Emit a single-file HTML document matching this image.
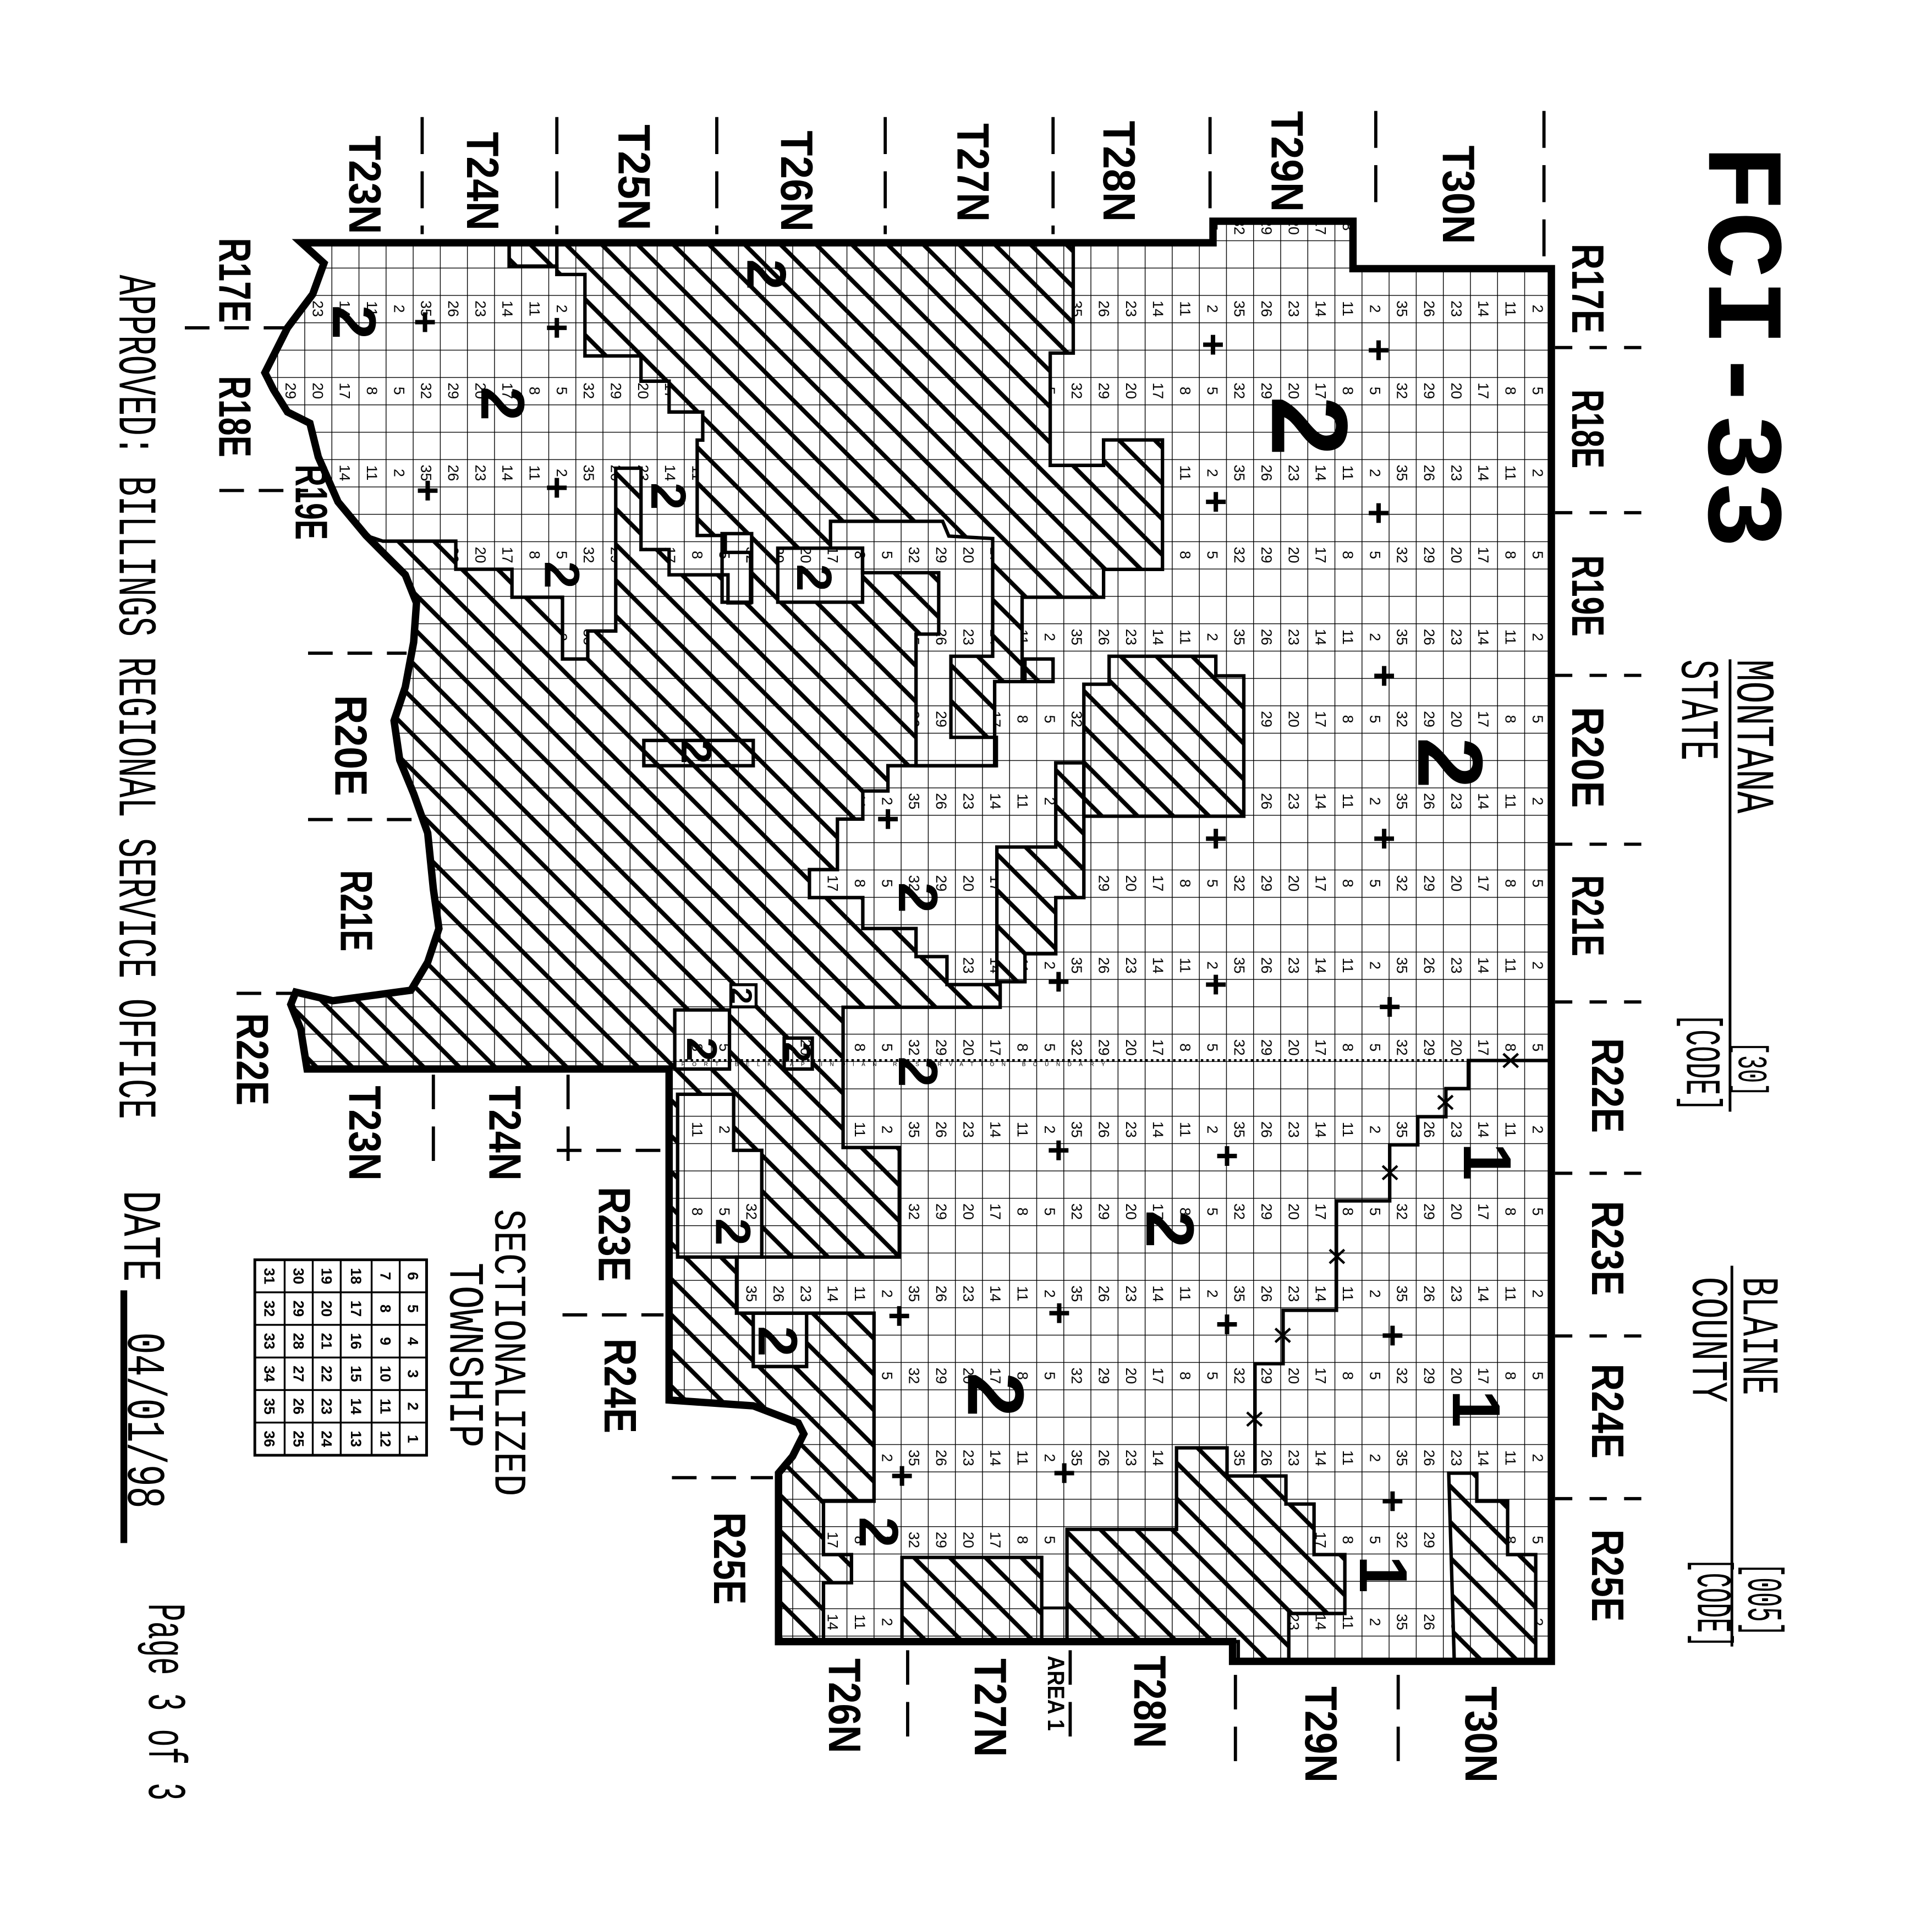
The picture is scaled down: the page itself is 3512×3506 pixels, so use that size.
<!DOCTYPE html>
<html><head><meta charset="utf-8"><style>
html,body{margin:0;padding:0;background:#fff;}
svg{display:block;}
.b{font-family:"Liberation Sans",sans-serif;font-weight:bold;}
.m{font-family:"Liberation Mono",monospace;}
</style></head><body>
<svg xmlns="http://www.w3.org/2000/svg" width="3512" height="3506" viewBox="0 0 1567.9 1565.2" preserveAspectRatio="none">
<defs>
<pattern id="hatch" patternUnits="userSpaceOnUse" width="29" height="29">
<path d="M-2,-2L31,31M27,-2L31,2M-2,27L2,31" stroke="#000" stroke-width="3.5" fill="none"/>
</pattern>
<pattern id="grid" patternUnits="userSpaceOnUse" x="5" y="17.4" width="22" height="22.2">
<path d="M0,0H22M0,0V22.2" stroke="#000" stroke-width="1.25" fill="none"/>
</pattern>
<pattern id="nums" patternUnits="userSpaceOnUse" x="71" y="106.2" width="132" height="133.2">
<g font-family="Liberation Sans, sans-serif" font-size="12" text-anchor="middle" fill="#000">
<text transform="translate(6.8,11.1) rotate(90)">35</text>
<text transform="translate(28.8,11.1) rotate(90)">26</text>
<text transform="translate(50.8,11.1) rotate(90)">23</text>
<text transform="translate(72.8,11.1) rotate(90)">14</text>
<text transform="translate(94.8,11.1) rotate(90)">11</text>
<text transform="translate(116.8,11.1) rotate(90)">2</text>
<text transform="translate(6.8,77.7) rotate(90)">32</text>
<text transform="translate(28.8,77.7) rotate(90)">29</text>
<text transform="translate(50.8,77.7) rotate(90)">20</text>
<text transform="translate(72.8,77.7) rotate(90)">17</text>
<text transform="translate(94.8,77.7) rotate(90)">8</text>
<text transform="translate(116.8,77.7) rotate(90)">5</text>
</g>
</pattern>
<clipPath id="out"><path id="outline" d="M244.6,197L984.4,197L984.4,179.5L1098,179.5L1098,218L1259,218L1259,1348L1000.3,1348L1000.3,1332L631.8,1332L631.8,1195.3L643.2,1181.7L652.3,1163.5L647.8,1154.6L611.3,1140.7L543,1136L543,867.4L249.2,867.4L244,835L236,815L240,805L270,812L300,808L333.5,803.5L347.1,780.7L356.2,753.4L351.7,721.5L347.1,675.9L335.7,644L324.4,616.7L319.8,584.8L328.9,557.5L335.7,521.1L338,489.2L328.9,466.4L315.2,452.8L297,434.5L274.3,407.2L258.3,370.8L251.5,343.4L233.3,334.3L221.9,316.1L215,302.4L233.3,266L253.8,238.7L262.9,213.6Z"/></clipPath>
</defs>
<rect width="1567.9" height="1565.2" fill="#fff"/>
<g clip-path="url(#out)">
<rect x="150" y="150" width="1150" height="1250" fill="url(#hatch)"/>
<g id="whites">
<path id="W1" d="M244.6,195.4L413.2,195.4L413.2,215.9L451.9,215.9L451.9,222.7L474.7,222.7L474.7,288.8L520.2,288.8L520.2,309.3L543,309.3L543,334.3L570.3,334.3L570.3,357.1L565.8,357.1L565.8,434.5L588.6,434.5L588.6,448.2L609.1,448.2L609.1,489.2L590.8,489.2L590.8,466.4L543,466.4L543,445.9L520.2,445.9L520.2,379.9L499.7,379.9L499.7,512L477,512L477,534.7L456.5,534.7L456.5,484.6L415.5,484.6L415.5,461.9L369.9,461.9L369.9,439.1L310.7,439.1L297,434.5L274.3,407.2L258.3,370.8L251.5,343.4L233.3,334.3L221.9,316.1L215,302.4L233.3,266L253.8,238.7L262.9,213.6Z"/>
<path id="W2" d="M871,197.7L984.4,197.7L984.4,179.5L1098,179.5L1098,218L1259,218L1259,1348L1000.3,1348L1000.3,1332L668.3,1332L668.3,1284.2L691,1284.2L691,1261.4L668.3,1261.4L668.3,1218.1L709.3,1218.1L709.3,1065.5L597.7,1065.5L597.7,1020L729.8,1020L729.8,931.1L684.2,931.1L684.2,817.3L811.7,817.3L811.7,798.9L768.5,798.9L768.5,776.2L743.4,776.2L743.4,753.4L700.2,753.4L700.2,728.3L656.9,728.3L656.9,705.6L679.6,705.6L679.6,664.6L700.2,664.6L700.2,641.8L720.6,641.8L720.6,621.3L807.2,621.3L807.2,553L829.5,553L829.5,484.6L895.6,484.6L895.6,462L943.4,462L943.4,357L895.6,357L895.6,377.6L852.3,377.6L852.3,286.5L871,286.5Z"/>
<path id="W3" d="M549.9,887.9L595.4,887.9L595.4,933.4L618.2,933.4L618.2,1020L549.9,1020Z"/>
<path d="M611.3,1065.5H654.6V1108.8H611.3Z"/>
<path d="M631.2,444.8H700V488.6H631.2Z"/>
<path d="M586,433H610V488.6H586Z"/>
<path d="M674,423L765,423L770,435L805.6,437L805.6,532.5L771.7,532.5L771.7,598.3L808.6,598.3L808.6,621.3L743.4,621.3L743.4,514.5L761.8,514.5L761.8,464.7L700,464.7L700,444.8L674,444.8Z"/>
<path d="M547.6,819.5H592V867.4H547.6Z"/>
<path d="M636.4,842.3H659.2V867.4H636.4Z"/>
</g>
<use href="#whites" fill="#fff"/>
<use href="#whites" fill="url(#nums)"/>
<g id="patches">
<path d="M900.1,532.5L986.7,532.5L986.7,548.4L1009.4,548.4L1009.4,662.3L879.6,662.3L879.6,555.2L900.1,555.2Z"/>
<path d="M856.8,619L879.6,619L879.6,728.3L856.8,728.3L856.8,773.9L831.8,773.9L831.8,796.6L809,796.6L809,687.3L856.8,687.3Z"/>
<path d="M831.8,534.7H854.6V553H831.8Z"/>
<path d="M954.8,1174.8L995.8,1174.8L995.8,1197.6L1043.6,1197.6L1043.6,1220.4L1066.4,1220.4L1066.4,1261.4L1091.4,1261.4L1091.4,1309.2L1045.9,1309.2L1045.9,1348L1004.9,1348L1004.9,1332L865.9,1332L865.9,1240.9L954.8,1240.9Z"/>
<path d="M732,1263.7H845.4V1332H732Z"/>
<path d="M1175.7,1195.3L1198.5,1195.3L1198.5,1218.1L1223.5,1218.1L1223.5,1261.4L1246.3,1261.4L1246.3,1348L1180.2,1348Z"/>
</g>
<use href="#patches" fill="#fff"/>
<use href="#patches" fill="url(#hatch)"/>
<rect x="845.4" y="1304.7" width="20.5" height="27.3" fill="#fff"/>
<rect x="150" y="150" width="1150" height="1250" fill="url(#grid)"/>
<use href="#whites" fill="none" stroke="#000" stroke-width="2.8"/>
<use href="#patches" fill="none" stroke="#000" stroke-width="2.8"/>
<rect x="845.4" y="1304.7" width="20.5" height="27.3" fill="none" stroke="#000" stroke-width="2.4"/>
<rect x="522.5" y="600.8" width="88.8" height="20.5" fill="none" stroke="#000" stroke-width="2.8"/>
<rect x="413.2" y="195.4" width="38.7" height="20.5" fill="none" stroke="#000" stroke-width="2.8"/>
<rect x="593.1" y="799" width="20.5" height="18" fill="#fff" stroke="#000" stroke-width="2.4"/>
<line x1="547" y1="860.5" x2="1191.6" y2="860.5" stroke="#000" stroke-width="2.2" stroke-dasharray="2 2.5"/>
<path d="M1259,860.5L1191.6,860.5L1191.6,883.3L1173.4,883.3L1173.4,906.1L1150.6,906.1L1150.6,928.9L1127.8,928.9L1127.8,974.4L1084.6,974.4L1084.6,1063.2L1041.3,1063.2L1041.3,1106.5L1018.5,1106.5L1018.5,1195.3" fill="none" stroke="#000" stroke-width="2.8"/>
</g>
<use href="#outline" fill="none" stroke="#000" stroke-width="6"/>
<text x="553" y="865" font-family="Liberation Sans, sans-serif" font-size="4.5" letter-spacing="6">FORT BELKNAP INDIAN RESERVATION BOUNDARY</text>
<g stroke="#000" stroke-width="2" fill="none">
<path d="M1220,855l12,11m0,-11l-12,11M1167,889l12,11m0,-11l-12,11M1122,946l12,11m0,-11l-12,11M1079,1014l12,11m0,-11l-12,11M1035,1078l12,11m0,-11l-12,11M1012,1146l12,11m0,-11l-12,11"/>
</g>
<g stroke="#000" stroke-width="3.6" fill="none">
<path d="M336.9,261.4h16m-8,-8v16M443.9,266h16m-8,-8v16M339.1,398.1h16m-8,-8v16M443.9,395.8h16m-8,-8v16M976.4,279.7h16m-8,-8v16M1110.8,284.2h16m-8,-8v16M978.7,407.2h16m-8,-8v16M1110.8,416.3h16m-8,-8v16M1115.3,548.4h16m-8,-8v16M1115.3,680.5h16m-8,-8v16M978.7,680.5h16m-8,-8v16M712.6,664.6h16m-8,-8v16M851.1,796.6h16m-8,-8v16M978.7,798.9h16m-8,-8v16M1119.8,817h16m-8,-8v16M851.1,933.4h16m-8,-8v16M987.8,938h16m-8,-8v16M721.8,1067.8h16m-8,-8v16M851.6,1065.5h16m-8,-8v16M987.8,1074.6h16m-8,-8v16M1122.1,1083.7h16m-8,-8v16M724,1197.6h16m-8,-8v16M855.7,1195.3h16m-8,-8v16M1122.1,1218.1h16m-8,-8v16"/>
</g>
<g class="b" text-anchor="middle" fill="#000">
<text font-size="50" transform="translate(270,261.4) rotate(90)">2</text>
<text font-size="50" transform="translate(390.6,327.5) rotate(90)">2</text>
<text font-size="88" transform="translate(1032.3,345.7) rotate(90)">2</text>
<text font-size="45" transform="translate(606.5,222.7) rotate(90)">2</text>
<text font-size="40" transform="translate(528.6,402.6) rotate(90)">2</text>
<text font-size="40" transform="translate(442.1,466.4) rotate(90)">2</text>
<text font-size="40" transform="translate(647,468.7) rotate(90)">2</text>
<text font-size="35" transform="translate(553.2,610) rotate(90)">2</text>
<text font-size="75" transform="translate(1151,619) rotate(90)">2</text>
<text font-size="45" transform="translate(729.5,728.3) rotate(90)">2</text>
<text font-size="35" transform="translate(557.7,851.4) rotate(90)">2</text>
<text font-size="30" transform="translate(637,853.7) rotate(90)">2</text>
<text font-size="24" transform="translate(593.6,808) rotate(90)">2</text>
<text font-size="45" transform="translate(729.5,869.6) rotate(90)">2</text>
<text font-size="40" transform="translate(581,999.5) rotate(90)">2</text>
<text font-size="45" transform="translate(615.6,1088.3) rotate(90)">2</text>
<text font-size="55" transform="translate(930.4,997.2) rotate(90)">2</text>
<text font-size="65" transform="translate(785.6,1131.6) rotate(90)">2</text>
<text font-size="45" transform="translate(697.6,1243.2) rotate(90)">2</text>
<text font-size="55" transform="translate(1188,942.5) rotate(90)">1</text>
<text font-size="55" transform="translate(1179,1143) rotate(90)">1</text>
<text font-size="55" transform="translate(1103.5,1277.3) rotate(90)">1</text>
</g>
<g class="b" fill="#000" font-size="37">
<text transform="translate(1276,197.7) rotate(90)" textLength="73" lengthAdjust="spacingAndGlyphs">R17E</text>
<text transform="translate(1276,316) rotate(90)" textLength="64" lengthAdjust="spacingAndGlyphs">R18E</text>
<text transform="translate(1276,450.5) rotate(90)" textLength="66" lengthAdjust="spacingAndGlyphs">R19E</text>
<text transform="translate(1276,573.5) rotate(90)" textLength="82" lengthAdjust="spacingAndGlyphs">R20E</text>
<text transform="translate(1276,710) rotate(90)" textLength="66" lengthAdjust="spacingAndGlyphs">R21E</text>
<text transform="translate(1292,842.3) rotate(90)" textLength="77" lengthAdjust="spacingAndGlyphs">R22E</text>
<text transform="translate(1292,974.4) rotate(90)" textLength="77" lengthAdjust="spacingAndGlyphs">R23E</text>
<text transform="translate(1292,1106.5) rotate(90)" textLength="77" lengthAdjust="spacingAndGlyphs">R24E</text>
<text transform="translate(1292,1240.9) rotate(90)" textLength="75" lengthAdjust="spacingAndGlyphs">R25E</text>
<text transform="translate(178,193) rotate(90)" textLength="69" lengthAdjust="spacingAndGlyphs">R17E</text>
<text transform="translate(178,305) rotate(90)" textLength="66" lengthAdjust="spacingAndGlyphs">R18E</text>
<text transform="translate(240,377) rotate(90)" textLength="61" lengthAdjust="spacingAndGlyphs">R19E</text>
<text transform="translate(272,564) rotate(90)" textLength="82" lengthAdjust="spacingAndGlyphs">R20E</text>
<text transform="translate(276.5,706) rotate(90)" textLength="66" lengthAdjust="spacingAndGlyphs">R21E</text>
<text transform="translate(192.3,822) rotate(90)" textLength="75" lengthAdjust="spacingAndGlyphs">R22E</text>
<text transform="translate(486,963) rotate(90)" textLength="77" lengthAdjust="spacingAndGlyphs">R23E</text>
<text transform="translate(490.6,1086) rotate(90)" textLength="77" lengthAdjust="spacingAndGlyphs">R24E</text>
<text transform="translate(579.4,1227) rotate(90)" textLength="75" lengthAdjust="spacingAndGlyphs">R25E</text>
<text transform="translate(283.4,110) rotate(90)" textLength="80" lengthAdjust="spacingAndGlyphs">T23N</text>
<text transform="translate(379,107) rotate(90)" textLength="80" lengthAdjust="spacingAndGlyphs">T24N</text>
<text transform="translate(502,101) rotate(90)" textLength="86" lengthAdjust="spacingAndGlyphs">T25N</text>
<text transform="translate(634,106) rotate(90)" textLength="82" lengthAdjust="spacingAndGlyphs">T26N</text>
<text transform="translate(777,100) rotate(90)" textLength="80" lengthAdjust="spacingAndGlyphs">T27N</text>
<text transform="translate(895.6,98) rotate(90)" textLength="82" lengthAdjust="spacingAndGlyphs">T28N</text>
<text transform="translate(1032,90) rotate(90)" textLength="82" lengthAdjust="spacingAndGlyphs">T29N</text>
<text transform="translate(1171,118) rotate(90)" textLength="80" lengthAdjust="spacingAndGlyphs">T30N</text>
<text transform="translate(283.4,881) rotate(90)" textLength="77" lengthAdjust="spacingAndGlyphs">T23N</text>
<text transform="translate(397.2,881) rotate(90)" textLength="77" lengthAdjust="spacingAndGlyphs">T24N</text>
<text transform="translate(672.8,1345.6) rotate(90)" textLength="77" lengthAdjust="spacingAndGlyphs">T26N</text>
<text transform="translate(791.2,1345.6) rotate(90)" textLength="80" lengthAdjust="spacingAndGlyphs">T27N</text>
<text transform="translate(920.6,1343.4) rotate(90)" textLength="75" lengthAdjust="spacingAndGlyphs">T28N</text>
<text transform="translate(1059.5,1368.4) rotate(90)" textLength="78" lengthAdjust="spacingAndGlyphs">T29N</text>
<text transform="translate(1189.4,1368.4) rotate(90)" textLength="78" lengthAdjust="spacingAndGlyphs">T30N</text>
<text font-size="19" transform="translate(850.5,1343.4) rotate(90)" textLength="61" lengthAdjust="spacingAndGlyphs">AREA 1</text>
</g>
<g class="m" fill="#000">
<text font-weight="bold" font-size="88" transform="translate(1387,117) rotate(90)" textLength="328" lengthAdjust="spacingAndGlyphs">FCI-33</text>
<text font-size="44" transform="translate(1410,535) rotate(90)" textLength="125" lengthAdjust="spacingAndGlyphs">MONTANA</text>
<text font-size="44" transform="translate(1365,535) rotate(90)" textLength="82" lengthAdjust="spacingAndGlyphs">STATE</text>
<text font-size="34" transform="translate(1411,845) rotate(90)" textLength="45" lengthAdjust="spacingAndGlyphs">[30]</text>
<text font-size="40" transform="translate(1369,822) rotate(90)" textLength="80" lengthAdjust="spacingAndGlyphs">[CODE]</text>
<text font-size="42" transform="translate(1415,1036) rotate(90)" textLength="96" lengthAdjust="spacingAndGlyphs">BLAINE</text>
<text font-size="42" transform="translate(1374,1036) rotate(90)" textLength="102" lengthAdjust="spacingAndGlyphs">COUNTY</text>
<text font-size="40" transform="translate(1419,1268) rotate(90)" textLength="60" lengthAdjust="spacingAndGlyphs">[005]</text>
<text font-size="40" transform="translate(1378,1264) rotate(90)" textLength="73" lengthAdjust="spacingAndGlyphs">[CODE]</text>
<text font-size="44" transform="translate(97,223) rotate(90)" textLength="685" lengthAdjust="spacingAndGlyphs">APPROVED: BILLINGS REGIONAL SERVICE OFFICE</text>
<text font-size="44" transform="translate(101,966) rotate(90)" textLength="74" lengthAdjust="spacingAndGlyphs">DATE</text>
<text font-size="44" transform="translate(104,1081) rotate(90)" textLength="143" lengthAdjust="spacingAndGlyphs">04/01/98</text>
<text font-size="44" transform="translate(121,1301) rotate(90)" textLength="160" lengthAdjust="spacingAndGlyphs">Page 3 of 3</text>
<text font-size="37" transform="translate(402,981) rotate(90)" textLength="233" lengthAdjust="spacingAndGlyphs">SECTIONALIZED</text>
<text font-size="40" transform="translate(365.4,1024.5) rotate(90)" textLength="150" lengthAdjust="spacingAndGlyphs">TOWNSHIP</text>
</g>
<g stroke="#000" fill="none">
<line x1="1404" y1="535" x2="1404" y2="902" stroke-width="2.2"/>
<line x1="1405.5" y1="1027" x2="1405.5" y2="1336" stroke-width="2.2"/>
<line x1="100.5" y1="1047" x2="100.5" y2="1252" stroke-width="5.5"/>
</g>
<g stroke="#000" stroke-width="2.6" fill="none">
<path d="M342.6,95V190M451.9,95V190M581.7,95V190M718.4,95V190M854.6,95V190M982,95V175M1116.5,90V175M1253,90V210" stroke-dasharray="30 14"/>
<path d="M351.7,872V950M461,872V950M736.6,1339V1421M868.5,1339V1421M1002.6,1359V1440M1134.7,1359V1440" stroke-dasharray="28 14"/>
<path d="M1262,282H1345M1262,416H1345M1262,548H1345M1262,685H1345M1262,813H1345M1262,952H1345M1262,1084H1345M1262,1216H1345" stroke-dasharray="14 14"/>
<path d="M150,266H245M178,398H250M250,530H330M250,665H335M192,806H240M451.9,933.4H538.5M456.5,1066.9H538.5M545.3,1199H627.3" stroke-dasharray="20 12"/>
</g>
<g fill="none" stroke="#000" stroke-width="2.2">
<rect x="206.8" y="1022.2" width="139.4" height="158.6"/>
<path d="M231,1022.2V1180.8M253.8,1022.2V1180.8M276.5,1022.2V1180.8M301.6,1022.2V1180.8M324.4,1022.2V1180.8M206.8,1048.6H346.2M206.8,1075H346.2M206.8,1101.5H346.2M206.8,1127.9H346.2M206.8,1154.3H346.2" stroke-width="1.5"/>
</g>
<g class="b" font-size="12" text-anchor="middle" fill="#000">
<text transform="translate(331,1035.4) rotate(90)">6</text><text transform="translate(331,1061.8) rotate(90)">5</text><text transform="translate(331,1088.2) rotate(90)">4</text><text transform="translate(331,1114.7) rotate(90)">3</text><text transform="translate(331,1141.1) rotate(90)">2</text><text transform="translate(331,1167.5) rotate(90)">1</text>
<text transform="translate(308.7,1035.4) rotate(90)">7</text><text transform="translate(308.7,1061.8) rotate(90)">8</text><text transform="translate(308.7,1088.2) rotate(90)">9</text><text transform="translate(308.7,1114.7) rotate(90)">10</text><text transform="translate(308.7,1141.1) rotate(90)">11</text><text transform="translate(308.7,1167.5) rotate(90)">12</text>
<text transform="translate(284.8,1035.4) rotate(90)">18</text><text transform="translate(284.8,1061.8) rotate(90)">17</text><text transform="translate(284.8,1088.2) rotate(90)">16</text><text transform="translate(284.8,1114.7) rotate(90)">15</text><text transform="translate(284.8,1141.1) rotate(90)">14</text><text transform="translate(284.8,1167.5) rotate(90)">13</text>
<text transform="translate(260.9,1035.4) rotate(90)">19</text><text transform="translate(260.9,1061.8) rotate(90)">20</text><text transform="translate(260.9,1088.2) rotate(90)">21</text><text transform="translate(260.9,1114.7) rotate(90)">22</text><text transform="translate(260.9,1141.1) rotate(90)">23</text><text transform="translate(260.9,1167.5) rotate(90)">24</text>
<text transform="translate(238.1,1035.4) rotate(90)">30</text><text transform="translate(238.1,1061.8) rotate(90)">29</text><text transform="translate(238.1,1088.2) rotate(90)">28</text><text transform="translate(238.1,1114.7) rotate(90)">27</text><text transform="translate(238.1,1141.1) rotate(90)">26</text><text transform="translate(238.1,1167.5) rotate(90)">25</text>
<text transform="translate(214.6,1035.4) rotate(90)">31</text><text transform="translate(214.6,1061.8) rotate(90)">32</text><text transform="translate(214.6,1088.2) rotate(90)">33</text><text transform="translate(214.6,1114.7) rotate(90)">34</text><text transform="translate(214.6,1141.1) rotate(90)">35</text><text transform="translate(214.6,1167.5) rotate(90)">36</text>
</g>
</svg>
</body></html>
